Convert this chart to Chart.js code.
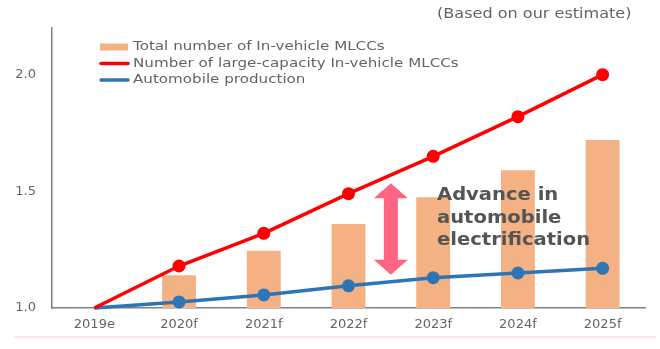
<!DOCTYPE html>
<html>
<head>
<meta charset="utf-8">
<script src="https://cdn.jsdelivr.net/npm/chart.js@4/dist/chart.umd.min.js"></script>
<style>
  html, body { margin: 0; padding: 0; background: #fff; }
  #wrap { width: 660px; height: 349px; position: relative; }
</style>
</head>
<body>
<div id="wrap"><canvas id="mlccChart" width="660" height="349"></canvas></div>
<script>
const years = ['2019e', '2020f', '2021f', '2022f', '2023f', '2024f', '2025f'];
const totalMlcc = [null, 1.14, 1.245, 1.36, 1.475, 1.59, 1.72];
const largeCapMlcc = [1.0, 1.18, 1.32, 1.49, 1.65, 1.82, 2.0];
const autoProduction = [1.0, 1.026, 1.056, 1.095, 1.13, 1.15, 1.17];
const yTicks = [1.0, 1.5, 2.0];

const legendItems = [
    { label: 'Total number of In-vehicle MLCCs', color: '#f4b183', kind: 'bar' },
    { label: 'Number of large-capacity In-vehicle MLCCs', color: '#ff0000', kind: 'line' },
    { label: 'Automobile production', color: '#2e75b6', kind: 'line' }
];
const noteLines = ['Advance in', 'automobile', 'electrification'];
const sourceNote = '(Based on our estimate)';

const textColor = '#646464';
const fontFamily = '"DejaVu Sans", "Open Sans", sans-serif';

// the source picture is a bit stretched sideways, so text gets a horizontal scale
function stretchedText(ctx, text, x, y, sx) {
    ctx.save();
    ctx.translate(x, y);
    ctx.scale(sx, 1);
    ctx.fillText(text, 0, 0);
    ctx.restore();
}

// extras drawn on top: legend, source note, arrow, annotation text
const overlayPlugin = {
    id: 'overlay',
    afterDraw(chart) {
        const ctx = chart.ctx;
        const x = chart.scales.x;
        const y = chart.scales.y;
        ctx.save();

        // source note
        ctx.fillStyle = textColor;
        ctx.font = '13.5px ' + fontFamily;
        ctx.textAlign = 'left';
        ctx.textBaseline = 'middle';
        stretchedText(ctx, sourceNote, 437, 14, 1.19);

        // legend
        ctx.font = '12.5px ' + fontFamily;
        legendItems.forEach((item, i) => {
            const cy = 47 + i * 16.5;
            if (item.kind === 'bar') {
                ctx.fillStyle = item.color;
                ctx.fillRect(100, cy - 3.5, 28, 7);
            } else {
                ctx.strokeStyle = item.color;
                ctx.lineWidth = 3.5;
                ctx.lineCap = 'round';
                ctx.beginPath();
                ctx.moveTo(101, cy);
                ctx.lineTo(128, cy);
                ctx.stroke();
            }
            ctx.fillStyle = textColor;
            stretchedText(ctx, item.label, 133, cy, 1.21);
        });

        // double arrow between 2022f and 2023f
        const ax = (x.getPixelForValue(3) + x.getPixelForValue(4)) / 2;
        const top = y.getPixelForValue(1.535);
        const bottom = y.getPixelForValue(1.142);
        const headH = 15, headW = 17, shaftW = 7;
        ctx.fillStyle = '#ff6482';
        ctx.beginPath();
        ctx.moveTo(ax, top);
        ctx.lineTo(ax + headW, top + headH);
        ctx.lineTo(ax + shaftW, top + headH);
        ctx.lineTo(ax + shaftW, bottom - headH);
        ctx.lineTo(ax + headW, bottom - headH);
        ctx.lineTo(ax, bottom);
        ctx.lineTo(ax - headW, bottom - headH);
        ctx.lineTo(ax - shaftW, bottom - headH);
        ctx.lineTo(ax - shaftW, top + headH);
        ctx.lineTo(ax - headW, top + headH);
        ctx.closePath();
        ctx.fill();

        // annotation text
        ctx.fillStyle = '#555555';
        ctx.font = 'bold 17px ' + fontFamily;
        noteLines.forEach((line, i) => {
            stretchedText(ctx, line, 437, 196 + i * 22.5, 1.15);
        });

        // faint pink rule under the axis labels
        ctx.strokeStyle = '#fcdde2';
        ctx.lineWidth = 1.5;
        ctx.beginPath();
        ctx.moveTo(15, 337);
        ctx.lineTo(655, 337);
        ctx.stroke();

        ctx.restore();
    }
};

const ctx = document.getElementById('mlccChart').getContext('2d');
const mlccChart = new Chart(ctx, {
    type: 'bar',
    data: {
        labels: years,
        datasets: [
            {
                type: 'line',
                label: legendItems[1].label,
                data: largeCapMlcc,
                borderColor: '#ff0000',
                backgroundColor: '#ff0000',
                borderWidth: 3.5,
                pointRadius: [0, 6.5, 6.5, 6.5, 6.5, 6.5, 6.5],
                pointBorderWidth: 0,
                tension: 0,
                clip: false,
                order: 1
            },
            {
                type: 'line',
                label: legendItems[2].label,
                data: autoProduction,
                borderColor: '#2e75b6',
                backgroundColor: '#2e75b6',
                borderWidth: 3.5,
                pointRadius: [0, 6.5, 6.5, 6.5, 6.5, 6.5, 6.5],
                pointBorderWidth: 0,
                tension: 0,
                clip: false,
                order: 2
            },
            {
                label: legendItems[0].label,
                data: totalMlcc,
                backgroundColor: '#f4b183',
                barPercentage: 0.4,
                categoryPercentage: 1.0,
                order: 3
            }
        ]
    },
    options: {
        responsive: false,
        animation: false,
        layout: { padding: { left: 0, right: 15, top: 28, bottom: 0 } },
        plugins: {
            legend: { display: false },
            tooltip: { enabled: false }
        },
        scales: {
            x: {
                offset: true,
                grid: { display: false, drawTicks: false },
                border: { color: '#808080', width: 1.5 },
                ticks: {
                    color: textColor,
                    font: { family: fontFamily, size: 13 },
                    padding: 9
                },
                afterFit(scale) { scale.height = 41; }
            },
            y: {
                min: 1.0,
                max: 2.2,
                grid: { display: false, drawTicks: false },
                border: { color: '#808080', width: 1.5 },
                afterBuildTicks(scale) {
                    scale.ticks = yTicks.map(v => ({ value: v }));
                },
                ticks: {
                    color: textColor,
                    font: { family: fontFamily, size: 13 },
                    padding: 16,
                    callback: v => v.toFixed(1)
                },
                afterFit(scale) { scale.width = 52; }
            }
        }
    },
    plugins: [overlayPlugin]
});
</script>
</body>
</html>
